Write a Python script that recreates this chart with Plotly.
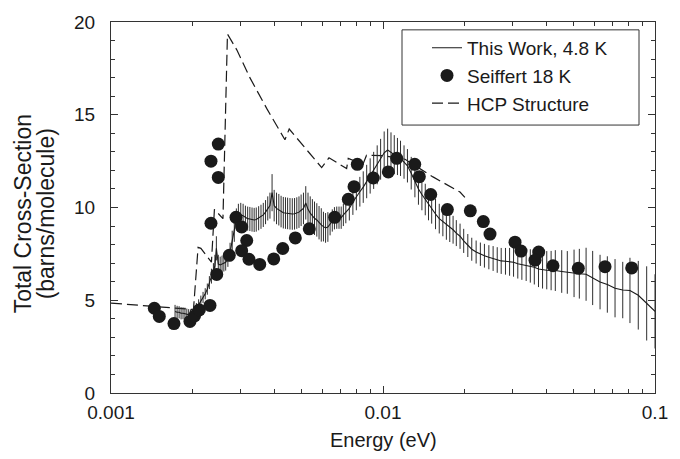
import plotly.graph_objects as go

# ---------------- data ----------------
# This Work, 4.8 K : energy (eV), cross-section (barns/molecule), error
tw_energy = [
    0.00172, 0.00175, 0.00178, 0.00181, 0.00184, 0.00187, 0.00190, 0.00193, 0.00196, 0.00199,
    0.00202, 0.00206, 0.00210, 0.00214, 0.00218, 0.00222, 0.00226, 0.00230, 0.00234, 0.00238,
    0.00241, 0.00244, 0.00248, 0.00252, 0.00256, 0.00260, 0.00264, 0.00269, 0.00274, 0.00279,
    0.00284, 0.00289, 0.00294,
    0.00300, 0.00306, 0.00312, 0.00318, 0.00324, 0.00330, 0.00336, 0.00342, 0.00349, 0.00356,
    0.00363, 0.00370, 0.00377, 0.00384, 0.00391, 0.00398, 0.00406, 0.00414, 0.00422, 0.00430,
    0.00438, 0.00446, 0.00455, 0.00464, 0.00473, 0.00482, 0.00491, 0.00500, 0.00510, 0.00520,
    0.00530, 0.00540, 0.00550, 0.00560, 0.00571, 0.00582, 0.00593, 0.00604, 0.00615, 0.00627,
    0.00639, 0.00651, 0.00663, 0.00676, 0.00689, 0.00702, 0.00715,
    0.00730, 0.00752, 0.00775, 0.00798, 0.00822, 0.00846, 0.00871, 0.00897, 0.00924, 0.00952,
    0.00980, 0.0101, 0.0104, 0.0107, 0.0110, 0.0113, 0.0116, 0.01195, 0.0123, 0.0127,
    0.0131, 0.0135, 0.0139, 0.0143, 0.0147, 0.0151, 0.0156, 0.0161, 0.0166, 0.0171,
    0.0176, 0.0181, 0.0186, 0.0192, 0.0198,
    0.0205, 0.0212, 0.0220, 0.0228, 0.0236, 0.0245, 0.0254, 0.0263, 0.0272, 0.0282,
    0.0292, 0.0302, 0.0313, 0.0324, 0.0336, 0.0348, 0.0360, 0.0373, 0.0386, 0.0400,
    0.0415, 0.0430,
    0.0454, 0.0476, 0.0504, 0.0527, 0.0558, 0.0590, 0.0628, 0.0668, 0.0713, 0.0761,
    0.0809, 0.0868, 0.0932, 0.1000,
]
tw_sigma = [
    4.40, 4.35, 4.35, 4.30, 4.30, 4.28, 4.25, 4.22, 4.20, 4.25,
    4.35, 4.55, 4.75, 4.95, 5.15, 5.35, 5.60, 5.95, 6.30, 6.55,
    6.85, 7.80, 6.95, 6.90, 6.95, 7.00, 7.05, 7.25, 7.60, 8.20,
    8.75, 9.35, 9.55,
    9.60, 9.55, 9.45, 9.40, 9.38, 9.35, 9.33, 9.35, 9.42, 9.50,
    9.60, 9.75, 9.95, 10.10, 10.80, 10.10, 9.95, 9.88, 9.78, 9.72,
    9.70, 9.68, 9.66, 9.65, 9.66, 9.70, 9.75, 9.85, 9.95, 10.25,
    9.90, 9.70, 9.55, 9.42, 9.33, 9.18, 9.06, 8.97, 8.90, 8.95,
    9.10, 9.30, 9.42, 9.45, 9.45, 9.45, 9.60,
    9.75, 9.95, 10.30, 10.60, 10.85, 11.10, 11.40, 11.70, 12.00, 12.30,
    12.60, 12.95, 13.10, 12.95, 12.85, 12.75, 12.65, 12.45, 12.25, 11.85,
    11.40, 11.00, 10.70, 10.43, 10.16, 9.95, 9.65, 9.40, 9.25, 9.06,
    8.92, 8.80, 8.62, 8.45, 8.20,
    7.95, 7.75, 7.60, 7.48, 7.40, 7.32, 7.25, 7.17, 7.12, 7.10,
    7.07, 7.05, 6.97, 6.93, 6.90, 6.85, 6.78, 6.68, 6.63, 6.62,
    6.60, 6.60,
    6.55, 6.50, 6.45, 6.43, 6.40, 6.20, 5.98, 5.85, 5.65, 5.55,
    5.53, 5.27, 4.83, 4.40,
]
tw_error = [
    0.35, 0.35, 0.33, 0.33, 0.32, 0.32, 0.30, 0.30, 0.30, 0.30,
    0.30, 0.30, 0.30, 0.30, 0.30, 0.30, 0.30, 0.35, 0.40, 0.45,
    0.60, 0.65, 0.50, 0.45, 0.45, 0.45, 0.45, 0.45, 0.50, 0.55,
    0.60, 0.60, 0.65,
    0.65, 0.65, 0.65, 0.65, 0.65, 0.65, 0.65, 0.65, 0.65, 0.65,
    0.65, 0.65, 0.65, 0.70, 1.00, 0.85, 0.85, 0.85, 0.85, 0.85,
    0.85, 0.85, 0.85, 0.85, 0.85, 0.85, 0.85, 0.85, 0.85, 0.90,
    0.90, 0.90, 0.90, 0.90, 0.90, 0.90, 0.90, 0.80, 0.80, 0.80,
    0.60, 0.60, 0.60, 0.60, 0.60, 0.60, 0.60,
    0.60, 0.65, 0.70, 0.75, 0.80, 0.85, 0.90, 0.95, 1.00, 1.05,
    1.10, 1.15, 1.15, 1.10, 1.05, 1.00, 0.95, 0.90, 0.90, 0.88,
    0.85, 0.85, 0.85, 0.85, 0.85, 0.82, 0.82, 0.80, 0.80, 0.80,
    0.78, 0.75, 0.70, 0.68, 0.65,
    0.62, 0.62, 0.62, 0.63, 0.64, 0.65, 0.67, 0.69, 0.70, 0.72,
    0.75, 0.78, 0.80, 0.83, 0.86, 0.90, 0.93, 0.97, 1.00, 1.03,
    1.06, 1.10,
    1.15, 1.15, 1.28, 1.34, 1.43, 1.46, 1.47, 1.52, 1.57, 1.52,
    1.76, 1.85, 2.00, 2.00,
]

# Seiffert 18 K
seiffert_energy = [
    0.001443, 0.001505, 0.001704, 0.001951, 0.002028, 0.002112, 0.002312, 0.002331, 0.002331,
    0.002480, 0.002480, 0.002447, 0.002722, 0.002881, 0.003023, 0.003155, 0.003023, 0.003216,
    0.003522, 0.003965, 0.004280, 0.004760, 0.005358, 0.006643, 0.007455, 0.007825, 0.008046,
    0.009211, 0.01046, 0.01123, 0.01308, 0.01360, 0.01498, 0.01724, 0.02094, 0.02338,
    0.02474, 0.03057, 0.03217, 0.03736, 0.03622, 0.04217, 0.05224, 0.06550, 0.08210,
]
seiffert_sigma = [
    4.57, 4.13, 3.74, 3.86, 4.15, 4.48, 4.72, 9.15, 12.50,
    13.42, 11.62, 6.39, 7.42, 9.47, 8.95, 8.22, 7.67, 7.21,
    6.93, 7.23, 7.79, 8.36, 8.85, 9.47, 10.44, 11.12, 12.33,
    11.59, 11.92, 12.65, 12.33, 11.66, 10.70, 9.89, 9.82, 9.24,
    8.57, 8.13, 7.65, 7.60, 7.16, 6.86, 6.72, 6.81, 6.74,
]

# HCP Structure
hcp_energy = [
    0.00100, 0.00201, 0.00209, 0.00214, 0.00234, 0.00240, 0.00258, 0.00268,
    0.00290, 0.00324, 0.00374, 0.00436, 0.00452, 0.00595, 0.00633, 0.00735,
    0.00745, 0.00844, 0.00870, 0.01000, 0.01205, 0.01527, 0.01919, 0.02000,
]
hcp_sigma = [
    4.85, 4.50, 7.85, 7.80, 7.05, 9.90, 9.40, 19.35,
    18.50, 17.00, 15.33, 13.65, 14.23, 12.15, 12.68, 12.10,
    12.65, 12.33, 12.82, 12.80, 12.60, 11.65, 10.83, 10.55,
]

x_tick_vals = [0.001, 0.01, 0.1]
x_tick_text = ["0.001", "0.01", "0.1"]

FONT = "Liberation Sans, Arial, Helvetica, sans-serif"
INK = "#1a1a1a"

# plot area in pixels (for placing paper-referenced layout items)
L, R, T, B = 111, 655, 15, 393
PW, PH = R - L, B - T


def px(xp):
    return (xp - L) / PW


def py(yp):
    return (B - yp) / PH


fig = go.Figure()

fig.add_trace(go.Scatter(
    x=hcp_energy, y=hcp_sigma, mode="lines", name="HCP Structure",
    line=dict(color=INK, width=1.2, dash="11px,5px"),
    legendrank=3, legendgroup="c",
))
fig.add_trace(go.Scatter(
    x=tw_energy, y=tw_sigma, mode="lines", name="This Work, 4.8 K",
    line=dict(color=INK, width=1.1),
    error_y=dict(type="data", array=tw_error, visible=True,
                 thickness=1, width=0, color="#2e2e2e"),
    legendrank=1, legendgroup="a",
))
fig.add_trace(go.Scatter(
    x=seiffert_energy, y=seiffert_sigma, mode="markers", name="Seiffert 18 K",
    marker=dict(color=INK, size=13, line=dict(width=0)),
    legendrank=2, legendgroup="b",
))

minor_x = [m * d for d in (0.001, 0.01) for m in range(2, 10)]

axis_common = dict(
    showline=True, linecolor="#333", linewidth=1, mirror="ticks",
    ticks="inside", tickcolor="#333", tickwidth=1, ticklen=7,
    showgrid=False, zeroline=False,
    tickfont=dict(family=FONT, size=19, color=INK),
)

fig.update_xaxes(
    type="log", range=[-3, -1],
    tickmode="array", tickvals=x_tick_vals, ticktext=x_tick_text,
    minor=dict(tickmode="array", tickvals=minor_x, ticks="inside", ticklen=4,
               tickcolor="#333", tickwidth=1, showgrid=False),
    ticklabelstandoff=2,
    **axis_common,
)
fig.update_yaxes(
    range=[0, 20], tickmode="linear", tick0=0, dtick=5,
    minor=dict(dtick=1, ticks="inside", ticklen=4, tickcolor="#333",
               tickwidth=1, showgrid=False),
    ticklabelstandoff=11,
    **axis_common,
)

fig.update_layout(
    width=680, height=459,
    margin=dict(l=L, r=680 - R, t=T, b=459 - B),
    paper_bgcolor="white", plot_bgcolor="white",
    font=dict(family=FONT, color=INK),
    showlegend=True,
    legend=dict(
        x=px(427), y=py(22), xanchor="left", yanchor="top",
        bgcolor="rgba(0,0,0,0)", borderwidth=0,
        font=dict(family=FONT, size=19, color=INK),
        tracegroupgap=0,
    ),
    shapes=[
        dict(type="rect", xref="paper", yref="paper",
             x0=px(402), x1=px(639), y0=py(120), y1=py(23),
             line=dict(color="#333", width=1), fillcolor="white", layer="above"),
    ],
    annotations=[
        dict(text="Energy (eV)", xref="paper", yref="paper", x=0.5, y=py(441),
             xanchor="center", yanchor="middle", showarrow=False,
             font=dict(family=FONT, size=20, color=INK)),
        dict(text="Total Cross-Section", xref="paper", yref="paper",
             x=px(23), y=py(211), textangle=-90,
             xanchor="center", yanchor="middle", showarrow=False,
             font=dict(family=FONT, size=23, color=INK)),
        dict(text="(barns/molecule)", xref="paper", yref="paper",
             x=px(46), y=py(211), textangle=-90,
             xanchor="center", yanchor="middle", showarrow=False,
             font=dict(family=FONT, size=23, color=INK)),
    ],
)

fig.write_html("out.html")
